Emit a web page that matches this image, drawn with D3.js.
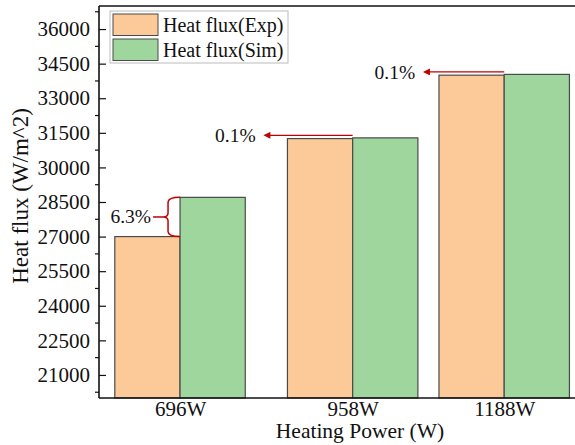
<!DOCTYPE html>
<html>
<head>
<meta charset="utf-8">
<script src="https://cdn.jsdelivr.net/npm/d3@7"></script>
<style>
  html, body { margin: 0; padding: 0; background: #fff; }
  svg text { font-family: 'Liberation Serif', 'Times New Roman', 'DejaVu Serif', serif !important; }
</style>
</head>
<body>
<svg id="chart" width="575" height="445"></svg>
<script>
// Heating power of each test case (W) and the measured / simulated heat flux (W/m^2)
const powers = [696, 958, 1188];
const powerLabels = ["696W", "958W", "1188W"];
const fluxExp = [27000, 31250, 34000];
const fluxSim = [28701, 31281, 34034];
const deviationLabels = ["6.3%", "0.1%", "0.1%"];

// Y axis ticks
const yMajorTicks = d3.range(21000, 36001, 1500);
const yMinorTicks = d3.range(20250, 37000, 1500);

const seriesNames = ["Heat flux(Exp)", "Heat flux(Sim)"];
const colors = ["#FCC998", "#9FD69E"];
const barSpan = 99; // bar width in power units (W)

const svg = d3.select("#chart");
const plotLeft = 99, plotRight = 578, plotTop = 6, plotBottom = 398;

const x = d3.scaleLinear().domain([573, 1300]).range([plotLeft, plotRight]);
const y = d3.scaleLinear().domain([20000, 37000]).range([plotBottom, plotTop]);

// Bars
const series = [fluxExp, fluxSim];
series.forEach((vals, s) => {
  svg.append("g").selectAll("rect")
    .data(powers)
    .join("rect")
    .attr("x", (p) => s === 0 ? x(p - barSpan) : x(p))
    .attr("width", (p) => x(p + barSpan) - x(p))
    .attr("y", (p, i) => y(vals[i]))
    .attr("height", (p, i) => plotBottom - y(vals[i]))
    .attr("fill", colors[s])
    .attr("stroke", "#4a4a4a")
    .attr("stroke-width", 1.2);
});

// Frame
svg.append("line").attr("x1", plotLeft).attr("x2", 580).attr("y1", plotTop).attr("y2", plotTop)
  .attr("stroke", "#111").attr("stroke-width", 1.6);

// Y axis: major ticks inside, minor ticks outside
const yAxisMajor = d3.axisLeft(y).tickValues(yMajorTicks).tickSizeInner(-7).tickSizeOuter(0).tickPadding(9)
  .tickFormat(d3.format("d"));
const gy = svg.append("g").attr("transform", `translate(${plotLeft},0)`).call(yAxisMajor);
gy.select(".domain").remove();
gy.selectAll(".tick line").attr("stroke", "#111").attr("stroke-width", 1.2);
gy.selectAll(".tick text").attr("font-size", 21).attr("fill", "#111").attr("x", -9);

svg.append("g").selectAll("line").data(yMinorTicks).join("line")
  .attr("x1", plotLeft - 4).attr("x2", plotLeft).attr("y1", (d) => y(d)).attr("y2", (d) => y(d))
  .attr("stroke", "#111").attr("stroke-width", 1.2);

svg.append("line").attr("x1", plotLeft).attr("x2", plotLeft).attr("y1", plotTop).attr("y2", plotBottom)
  .attr("stroke", "#111").attr("stroke-width", 1.6);

// X axis
const xAxis = d3.axisBottom(x).tickValues(powers).tickSize(0).tickPadding(3)
  .tickFormat((d, i) => powerLabels[i]);
const gx = svg.append("g").attr("transform", `translate(0,${plotBottom})`).call(xAxis);
gx.select(".domain").remove();
gx.selectAll(".tick text").attr("font-size", 21).attr("fill", "#111");
svg.append("line").attr("x1", plotLeft).attr("x2", 580).attr("y1", plotBottom).attr("y2", plotBottom)
  .attr("stroke", "#111").attr("stroke-width", 1.6);

// Axis titles
svg.append("text").attr("x", 360).attr("y", 438).attr("text-anchor", "middle")
  .attr("font-size", 21.5).attr("fill", "#111").text("Heating Power (W)");
svg.append("text").attr("transform", `translate(28,${(plotTop + plotBottom) / 2 - 6}) rotate(-90)`)
  .attr("text-anchor", "middle").attr("font-size", 23).attr("fill", "#111").text("Heat flux (W/m^2)");

// Legend
const lg = svg.append("g");
lg.append("rect").attr("x", 110).attr("y", 11).attr("width", 178).attr("height", 52)
  .attr("fill", "#fff").attr("stroke", "#bbb").attr("stroke-width", 1);
seriesNames.forEach((name, i) => {
  lg.append("rect").attr("x", 113).attr("y", 14 + i * 25).attr("width", 45).attr("height", 21.5)
    .attr("fill", colors[i]).attr("stroke", "#4a4a4a").attr("stroke-width", 1);
  lg.append("text").attr("x", 163).attr("y", 32 + i * 25).attr("font-size", 20).attr("fill", "#111").text(name);
});

// Deviation annotations
const red = "#C00000";
svg.append("defs").append("marker").attr("id", "arrowhead")
  .attr("viewBox", "0 0 10 10").attr("refX", 1).attr("refY", 5)
  .attr("markerWidth", 9).attr("markerHeight", 7).attr("markerUnits", "userSpaceOnUse")
  .attr("orient", "auto-start-reverse")
  .append("path").attr("d", "M0,0 L10,5 L0,10 Z").attr("fill", red);

// Brace for the first case (experiment vs simulation gap)
{
  const bx = x(powers[0]);
  const y1 = y(fluxSim[0]), y2 = y(fluxExp[0]), ym = (y1 + y2) / 2;
  const vx = bx - 12;
  const path = `M${bx},${y1} Q${vx},${y1} ${vx},${y1 + 5} L${vx},${ym - 4} Q${vx},${ym} ${vx - 5},${ym}`
    + ` Q${vx},${ym} ${vx},${ym + 4} L${vx},${y2 - 5} Q${vx},${y2} ${bx},${y2}`;
  svg.append("path").attr("d", path).attr("fill", "none").attr("stroke", red).attr("stroke-width", 1.5);
  svg.append("line").attr("x1", vx - 5).attr("x2", vx - 15).attr("y1", ym).attr("y2", ym)
    .attr("stroke", red).attr("stroke-width", 1.5);
  svg.append("text").attr("x", vx - 17).attr("y", ym + 6).attr("text-anchor", "end")
    .attr("font-size", 19.5).attr("fill", "#111").text(deviationLabels[0]);
}

// Arrows for the other two cases
const arrowLengths = [null, 90, 82];
[1, 2].forEach((i) => {
  const x0 = x(powers[i]);
  const ya = y(fluxSim[i]) - 2.5;
  const tip = x0 - arrowLengths[i];
  svg.append("line").attr("x1", x0).attr("x2", tip + 7).attr("y1", ya).attr("y2", ya)
    .attr("stroke", red).attr("stroke-width", 1.4).attr("marker-end", "url(#arrowhead)");
  svg.append("text").attr("x", tip - 7).attr("y", ya + 7).attr("text-anchor", "end")
    .attr("font-size", 19.5).attr("fill", "#111").text(deviationLabels[i]);
});
</script>
</body>
</html>
